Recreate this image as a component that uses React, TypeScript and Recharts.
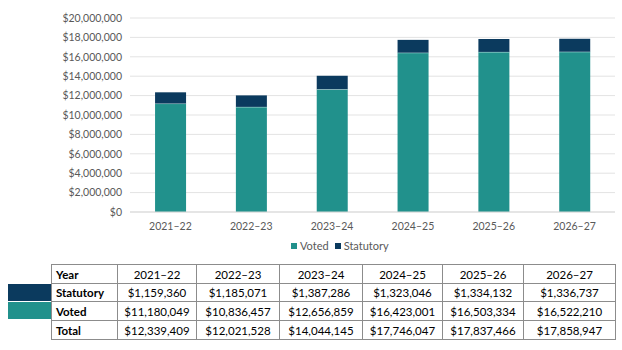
import React from 'react'
import { BarChart, Bar, XAxis, YAxis, CartesianGrid } from 'recharts'

const YEARS = ['2021–22', '2022–23', '2023–24', '2024–25', '2025–26', '2026–27']
const VOTED = [11180049, 10836457, 12656859, 16423001, 16503334, 16522210]
const STATUTORY = [1159360, 1185071, 1387286, 1323046, 1334132, 1336737]
const Y_TICKS = [0, 2000000, 4000000, 6000000, 8000000, 10000000, 12000000, 14000000, 16000000, 18000000, 20000000]

const TEAL = '#21918c'
const NAVY = '#0b3a5e'
const TEXT = '#595959'
const FONT = 'Lato, "Open Sans", sans-serif'

const COL_W = [66, 79, 83, 83, 80, 81, 92]
const ROW_H = [19, 18, 19, 19]

function money(n: number) {
  return '$' + n.toLocaleString('en-US')
}

const chartData = YEARS.map((year, i) => ({ year, voted: VOTED[i], statutory: STATUTORY[i] }))
const TOTAL = VOTED.map((v, i) => v + STATUTORY[i])

// voted segment with the thin light seam where statutory sits on top
function VotedShape(props: any) {
  const { x, y, width, height } = props
  return (
    <g>
      <rect x={x} y={y} width={width} height={height} fill={TEAL} />
      <line x1={x} x2={x + width} y1={y} y2={y} stroke="#cfe9e8" strokeWidth={1} />
    </g>
  )
}

function LegendBox() {
  const items = [
    { label: 'Voted', color: TEAL },
    { label: 'Statutory', color: NAVY },
  ]
  return (
    <div style={{ display: 'flex', alignItems: 'center', fontFamily: FONT, fontSize: 11, color: TEXT }}>
      {items.map(it => (
        <span key={it.label} style={{ display: 'flex', alignItems: 'center', marginRight: 6 }}>
          <span style={{ width: 6, height: 6, background: it.color, marginRight: 3, display: 'inline-block' }} />
          {it.label}
        </span>
      ))}
    </div>
  )
}

const cell: React.CSSProperties = {
  border: '1px solid #8c8c8c',
  padding: 0,
  textAlign: 'center',
  verticalAlign: 'middle',
}

export default function App() {
  const rows = [
    { name: 'Year', vals: YEARS },
    { name: 'Statutory', vals: STATUTORY.map(money) },
    { name: 'Voted', vals: VOTED.map(money) },
    { name: 'Total', vals: TOTAL.map(money) },
  ]
  return (
    <div style={{ position: 'absolute', left: 0, top: 0, width: 622, height: 350, background: '#fff', fontFamily: FONT }}>
      <BarChart
        width={622}
        height={250}
        data={chartData}
        margin={{ top: 18, right: 7, left: 0, bottom: 0 }}
        barCategoryGap="31%"
      >
        <CartesianGrid vertical={false} stroke="#e3e3e3" />
        <XAxis
          dataKey="year"
          height={38}
          tick={{ fontSize: 10.5, fill: TEXT, fontFamily: FONT }}
          tickLine={false}
          axisLine={{ stroke: '#d9d9d9' }}
          tickMargin={5}
        />
        <YAxis
          width={130}
          domain={[0, 20000000]}
          ticks={Y_TICKS}
          interval={0}
          tickFormatter={money}
          tick={{ fontSize: 10.5, fill: TEXT, fontFamily: FONT }}
          tickLine={false}
          axisLine={false}
        />
        <Bar dataKey="voted" name="Voted" stackId="a" fill={TEAL} shape={<VotedShape />} isAnimationActive={false} />
        <Bar dataKey="statutory" name="Statutory" stackId="a" fill={NAVY} isAnimationActive={false} />
      </BarChart>

      <div style={{ position: 'absolute', left: 291, top: 239 }}>
        <LegendBox />
      </div>

      <div style={{ position: 'absolute', left: 8, top: 284, width: 44, height: 17, background: NAVY }} />
      <div style={{ position: 'absolute', left: 8, top: 302, width: 44, height: 17, background: TEAL }} />

      <table
        style={{
          position: 'absolute',
          left: 51,
          top: 264,
          borderCollapse: 'collapse',
          tableLayout: 'fixed',
          fontFamily: FONT,
          fontSize: 11.5,
          color: '#000',
        }}
      >
        <colgroup>
          {COL_W.map((w, i) => (
            <col key={i} style={{ width: w }} />
          ))}
        </colgroup>
        <tbody>
          {rows.map((r, ri) => (
            <tr key={r.name} style={{ height: ROW_H[ri] }}>
              <td style={{ ...cell, textAlign: 'left', paddingLeft: 4, fontWeight: 700 }}>{r.name}</td>
              {r.vals.map((v, i) => (
                <td key={i} style={cell}>{v}</td>
              ))}
            </tr>
          ))}
        </tbody>
      </table>
    </div>
  )
}
